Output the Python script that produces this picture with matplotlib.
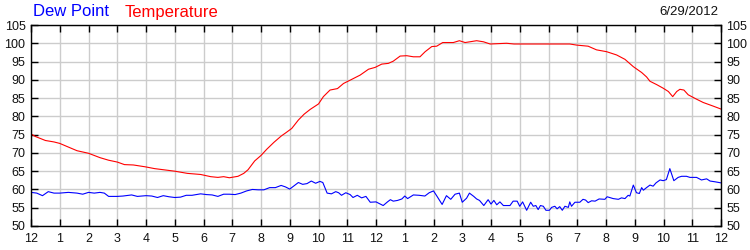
import matplotlib
matplotlib.use("Agg")
import matplotlib.pyplot as plt

plt.rcParams['font.family'] = ['Liberation Sans', 'DejaVu Sans']

# Hours since midnight and values
dew_hours = [0.0, 0.2, 0.4, 0.6, 0.8, 1.0, 1.3, 1.6, 1.8, 2.0, 2.2, 2.4, 2.55, 2.7, 3.0, 3.2, 3.5, 3.7,
             4.0, 4.2, 4.4, 4.6, 4.8, 5.0, 5.2, 5.4, 5.6, 5.9, 6.1, 6.3, 6.5, 6.7, 6.9, 7.1, 7.3, 7.5,
             7.7, 7.9, 8.1, 8.3, 8.5, 8.7, 8.85, 9.0, 9.15, 9.3, 9.45, 9.6, 9.75, 9.9, 10.05, 10.15,
             10.3, 10.45, 10.6, 10.7, 10.8, 10.95, 11.1, 11.2, 11.35, 11.5, 11.65, 11.8, 12.0, 12.1,
             12.25, 12.4, 12.5, 12.6, 12.75, 12.9, 13.0, 13.1, 13.3, 13.5, 13.7, 13.85, 14.0, 14.1,
             14.3, 14.45, 14.6, 14.75, 14.9, 15.0, 15.15, 15.25, 15.4, 15.5, 15.6, 15.75, 15.9, 16.0,
             16.1, 16.2, 16.31, 16.43, 16.66, 16.77, 16.91, 17.0, 17.1, 17.24, 17.38, 17.47, 17.56,
             17.64, 17.72, 17.82, 17.91, 18.03, 18.11, 18.22, 18.3, 18.39, 18.48, 18.57, 18.69,
             18.74, 18.8, 18.92, 19.09, 19.2, 19.29, 19.38, 19.5, 19.62, 19.76, 19.96, 20.04, 20.25,
             20.43, 20.54, 20.66, 20.77, 20.83, 20.95, 21.06, 21.16, 21.24, 21.3, 21.41, 21.53,
             21.64, 21.74, 21.88, 21.99, 22.1, 22.22, 22.36, 22.51, 22.63, 22.8, 22.92, 23.15,
             23.32, 23.5, 23.62, 23.79, 24.0]
dew_values = [59.2, 59.0, 58.3, 59.4, 59.0, 59.0, 59.2, 59.0, 58.7, 59.2, 59.0, 59.2, 59.0, 58.1, 58.1,
              58.2, 58.5, 58.1, 58.3, 58.2, 57.8, 58.3, 58.0, 57.8, 57.9, 58.4, 58.4, 58.8, 58.6, 58.5,
              58.1, 58.7, 58.7, 58.6, 59.0, 59.6, 60.0, 59.9, 59.9, 60.5, 60.5, 61.1, 60.7, 60.1, 61.0,
              61.9, 61.4, 61.6, 62.3, 61.7, 62.2, 61.9, 59.0, 58.8, 59.4, 59.1, 58.4, 59.1, 58.6, 57.8,
              58.4, 57.7, 58.1, 56.5, 56.6, 56.2, 55.6, 56.6, 57.2, 56.8, 57.0, 57.4, 58.2, 57.5, 58.5,
              58.4, 58.2, 59.1, 59.6, 58.4, 55.9, 58.3, 57.3, 58.7, 59.0, 56.5, 57.6, 59.0, 58.1, 57.4,
              57.0, 55.6, 57.2, 56.0, 57.0, 55.8, 56.6, 55.6, 55.6, 56.8, 56.8, 55.4, 56.6, 54.3, 56.5,
              55.4, 55.6, 54.5, 55.6, 55.4, 54.3, 54.3, 55.1, 55.4, 54.7, 55.3, 54.3, 55.4, 55.1, 56.6,
              55.4, 56.5, 56.5, 57.3, 57.1, 56.4, 56.9, 56.8, 57.4, 57.3, 58.0, 57.5, 57.3, 57.7, 57.5,
              58.4, 58.2, 61.2, 59.1, 58.9, 60.5, 59.8, 60.5, 61.2, 60.9, 61.8, 62.6, 62.4, 62.7, 65.7,
              62.4, 63.3, 63.6, 63.6, 63.3, 63.3, 62.6, 62.9, 62.3, 62.1, 61.8]

temp_hours = [0.0, 0.15, 0.31, 0.5, 0.8, 1.0, 1.3, 1.6, 2.0, 2.4, 2.7, 3.0, 3.25, 3.56, 3.97, 4.3, 4.7,
              5.0, 5.44, 5.9, 6.25, 6.5, 6.7, 6.9, 7.2, 7.4, 7.55, 7.78, 8.0, 8.2, 8.45, 8.7, 8.88,
              9.07, 9.3, 9.5, 9.71, 10.0, 10.17, 10.4, 10.66, 10.87, 11.1, 11.45, 11.74, 11.97, 12.2,
              12.43, 12.6, 12.84, 13.07, 13.3, 13.53, 13.71, 13.94, 14.11, 14.32, 14.69, 14.9, 15.1,
              15.5, 15.74, 15.97, 16.54, 16.8, 18.74, 18.98, 19.38, 19.67, 20.02, 20.37, 20.66,
              20.95, 21.24, 21.41, 21.53, 21.76, 21.99, 22.17, 22.32, 22.46, 22.57, 22.71, 22.86,
              23.15, 23.38, 23.73, 24.0]
temp_values = [75.2, 74.5, 74.0, 73.4, 73.0, 72.6, 71.6, 70.6, 69.9, 68.7, 68.0, 67.5, 66.8, 66.7,
               66.2, 65.7, 65.3, 65.0, 64.4, 64.1, 63.5, 63.3, 63.5, 63.2, 63.6, 64.4, 65.4, 67.8,
               69.3, 71.0, 72.9, 74.6, 75.6, 76.7, 79.0, 80.6, 81.9, 83.4, 85.4, 87.2, 87.6, 89.0,
               89.9, 91.3, 92.9, 93.4, 94.3, 94.5, 95.1, 96.5, 96.6, 96.3, 96.3, 97.7, 99.1, 99.2,
               100.2, 100.2, 100.7, 100.2, 100.7, 100.4, 99.8, 100.0, 99.8, 99.8, 99.5, 99.2, 98.2,
               97.7, 96.8, 95.6, 93.6, 92.0, 90.8, 89.6, 88.7, 87.7, 86.8, 85.4, 86.8, 87.4, 87.2,
               85.9, 84.7, 83.8, 82.8, 82.0]

x_ticks = list(range(0, 25))
x_labels = ['12', '1', '2', '3', '4', '5', '6', '7', '8', '9', '10', '11',
            '12', '1', '2', '3', '4', '5', '6', '7', '8', '9', '10', '11', '12']
y_ticks = [50, 55, 60, 65, 70, 75, 80, 85, 90, 95, 100, 105]

fig = plt.figure(figsize=(7.5, 2.5), dpi=100)
ax = fig.add_axes([31/750, 1 - 226/250, 690/750, 201/250])

ax.plot(temp_hours, temp_values, color='#ff0000', linewidth=0.8)
ax.plot(dew_hours, dew_values, color='#0000ff', linewidth=0.8)

ax.set_xlim(0, 24)
ax.set_ylim(50, 105)
ax.set_xticks(x_ticks)
ax.set_xticklabels(x_labels)
ax.set_yticks(y_ticks)
ax.grid(True, color='#cccccc', linewidth=1.0)
ax.set_axisbelow(True)
ax.tick_params(axis='both', direction='in', length=5, width=1, color='black',
               top=True, right=True, labelright=True, labelsize=9, labelcolor='#111111')
ax.tick_params(axis='x', pad=5)
ax.tick_params(axis='y', pad=4)
for s in ax.spines.values():
    s.set_linewidth(1.0)
    s.set_color('black')

fig.text(33/750, 1 - 12/250, 'Dew Point', color='#0000ff', fontsize=12, va='center', ha='left')
fig.text(125/750, 1 - 12/250, 'Temperature', color='#ff0000', fontsize=12, va='center', ha='left')
fig.text(718/750, 1 - 12/250, '6/29/2012', color='#111111', fontsize=9.5, va='center', ha='right')

fig.savefig('out.png', dpi=100)
